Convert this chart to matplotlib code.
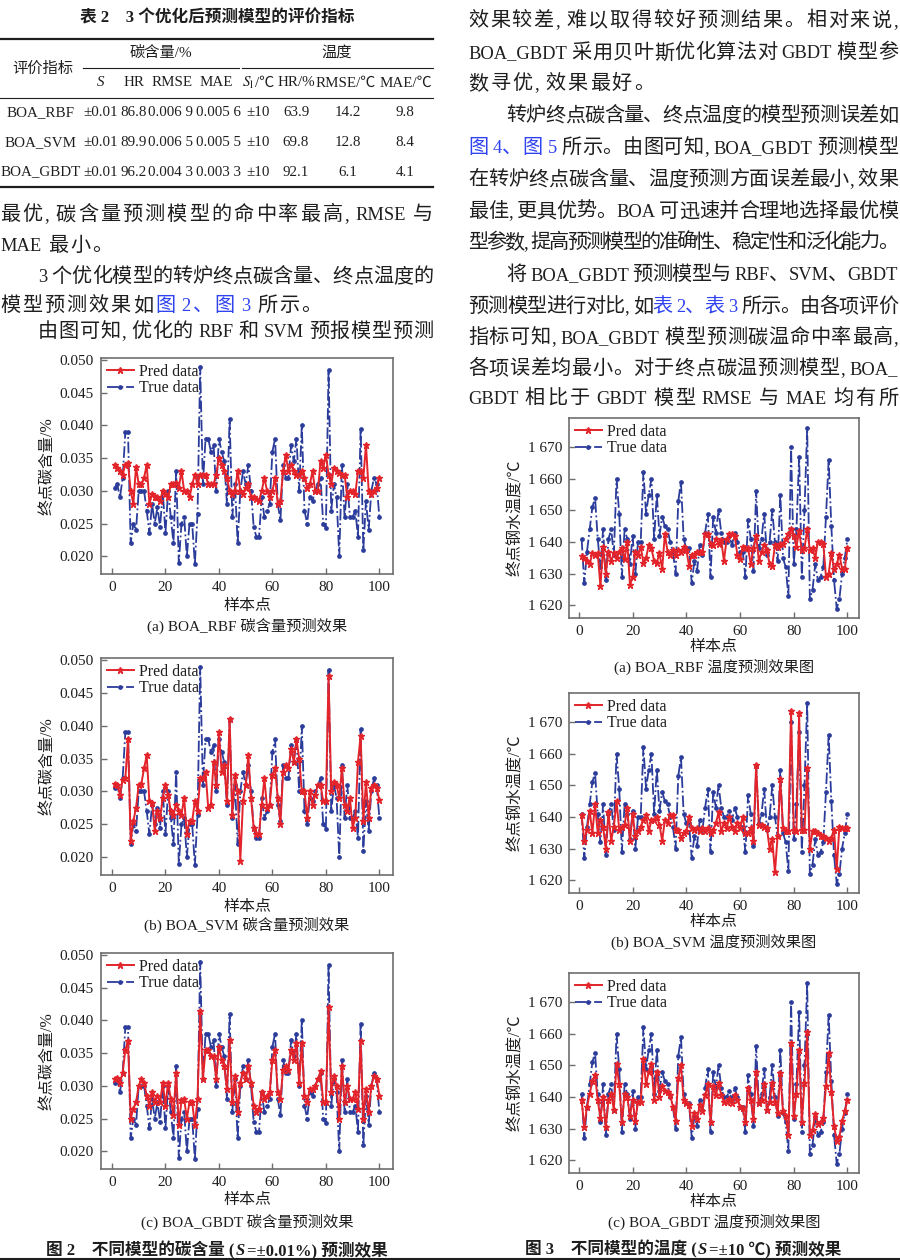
import re
import numpy as np
import matplotlib
matplotlib.use("Agg")
import matplotlib.pyplot as plt
from matplotlib.lines import Line2D
from matplotlib.ticker import FuncFormatter

# ---- values ----
sample = np.arange(1, 101)

carbon_true = [0.0305, 0.031, 0.029, 0.032, 0.039, 0.039, 0.022, 0.025, 0.024, 0.030,
               0.030, 0.030, 0.027, 0.0235, 0.028, 0.025, 0.0275, 0.0245, 0.030, 0.0235,
               0.030, 0.026, 0.022, 0.033, 0.019, 0.025, 0.026, 0.020, 0.025, 0.025,
               0.0188, 0.0265, 0.049, 0.031, 0.038, 0.038, 0.036, 0.037, 0.030, 0.038,
               0.036, 0.0345, 0.028, 0.041, 0.026, 0.031, 0.022, 0.030, 0.033, 0.031,
               0.034, 0.030, 0.0245, 0.023, 0.023, 0.029, 0.026, 0.027, 0.028, 0.036,
               0.038, 0.028, 0.0255, 0.034, 0.032, 0.032, 0.037, 0.0345, 0.038, 0.030,
               0.040, 0.027, 0.025, 0.029, 0.0285, 0.030, 0.031, 0.032, 0.025, 0.0243,
               0.0485, 0.027, 0.031, 0.029, 0.020, 0.034, 0.026, 0.031, 0.026, 0.026,
               0.027, 0.023, 0.0395, 0.021, 0.0285, 0.024, 0.030, 0.032, 0.031, 0.026]

carbon_rbf = [0.034, 0.0335, 0.033, 0.0325, 0.034, 0.0342, 0.030, 0.028, 0.0337, 0.031,
              0.031, 0.032, 0.034, 0.028, 0.0295, 0.029, 0.029, 0.0285, 0.030, 0.0295,
              0.029, 0.031, 0.031, 0.0312, 0.0305, 0.033, 0.030, 0.030, 0.029, 0.031,
              0.0325, 0.031, 0.0325, 0.0325, 0.0325, 0.031, 0.031, 0.031, 0.0325, 0.035,
              0.034, 0.033, 0.032, 0.030, 0.0295, 0.030, 0.033, 0.030, 0.0295, 0.0305,
              0.031, 0.029, 0.029, 0.0288, 0.0285, 0.030, 0.032, 0.030, 0.029, 0.030,
              0.032, 0.028, 0.0285, 0.033, 0.0355, 0.033, 0.034, 0.033, 0.0325, 0.0325,
              0.033, 0.032, 0.0305, 0.031, 0.033, 0.030, 0.030, 0.0345, 0.0335, 0.0355,
              0.0325, 0.031, 0.0335, 0.033, 0.0328, 0.0325, 0.0325, 0.029, 0.030, 0.030,
              0.0295, 0.033, 0.033, 0.032, 0.037, 0.030, 0.0295, 0.030, 0.0305, 0.032]

carbon_svm = [0.0312, 0.031, 0.0295, 0.0318, 0.032, 0.038, 0.0225, 0.0255, 0.0275, 0.031,
              0.0312, 0.0335, 0.0355, 0.0285, 0.0283, 0.024, 0.027, 0.026, 0.029, 0.031,
              0.0295, 0.027, 0.0265, 0.028, 0.027, 0.0265, 0.029, 0.0235, 0.0255, 0.0255,
              0.0285, 0.027, 0.032, 0.032, 0.033, 0.0275, 0.028, 0.0345, 0.031, 0.039,
              0.033, 0.034, 0.0285, 0.041, 0.0265, 0.0325, 0.030, 0.0195, 0.0285, 0.031,
              0.0355, 0.029, 0.0245, 0.0235, 0.0235, 0.028, 0.032, 0.0275, 0.028, 0.0325,
              0.0335, 0.029, 0.025, 0.033, 0.034, 0.0335, 0.0365, 0.0345, 0.038, 0.035,
              0.030, 0.030, 0.026, 0.030, 0.028, 0.0295, 0.031, 0.031, 0.0285, 0.0285,
              0.0475, 0.030, 0.0315, 0.031, 0.029, 0.0335, 0.028, 0.027, 0.029, 0.0245,
              0.026, 0.0345, 0.0385, 0.0255, 0.0315, 0.026, 0.0305, 0.031, 0.0305, 0.0287]

carbon_gbdt = [0.031, 0.0312, 0.0305, 0.032, 0.0355, 0.0368, 0.025, 0.0265, 0.0275, 0.030,
               0.031, 0.0305, 0.0285, 0.027, 0.029, 0.0275, 0.0285, 0.0275, 0.0305, 0.027,
               0.0305, 0.028, 0.0255, 0.032, 0.024, 0.0278, 0.028, 0.025, 0.0275, 0.0275,
               0.024, 0.028, 0.0415, 0.031, 0.0355, 0.0355, 0.0345, 0.0345, 0.031, 0.036,
               0.034, 0.033, 0.0295, 0.037, 0.0275, 0.0315, 0.026, 0.0305, 0.032, 0.031,
               0.033, 0.0305, 0.027, 0.026, 0.0265, 0.029, 0.028, 0.0285, 0.029, 0.034,
               0.0355, 0.029, 0.028, 0.0325, 0.033, 0.0325, 0.0355, 0.034, 0.0365, 0.0305,
               0.0365, 0.0285, 0.0275, 0.0295, 0.0295, 0.030, 0.031, 0.0322, 0.0275, 0.0275,
               0.042, 0.029, 0.0315, 0.030, 0.025, 0.033, 0.0275, 0.030, 0.028, 0.028,
               0.029, 0.0265, 0.0368, 0.025, 0.0295, 0.026, 0.030, 0.0315, 0.031, 0.0285]

temp_true = [1641, 1627, 1637, 1644, 1651, 1654, 1641, 1632, 1644, 1628,
             1641, 1644, 1636, 1660, 1649, 1629, 1644, 1641, 1633, 1642,
             1630, 1640, 1640, 1662, 1649, 1655, 1660, 1641, 1655, 1642,
             1648, 1645, 1644, 1640, 1637, 1630, 1653, 1659, 1641, 1638,
             1638, 1627, 1634, 1631, 1639, 1636, 1643, 1649, 1629, 1648,
             1643, 1650, 1643, 1640, 1640, 1642, 1639, 1643, 1640, 1637,
             1637, 1629, 1647, 1641, 1631, 1656, 1638, 1641, 1649, 1636,
             1640, 1650, 1640, 1634, 1655, 1635, 1632, 1623, 1670, 1633,
             1644, 1667, 1629, 1650, 1676, 1622, 1625, 1633, 1628, 1629,
             1632, 1648, 1666, 1645, 1628, 1619, 1622, 1630, 1635, 1641]

temp_rbf = [1635.5, 1635, 1634, 1633, 1636.5, 1636, 1636.5, 1626, 1638.5, 1630,
            1637, 1634, 1636.5, 1635, 1637, 1638, 1634.5, 1640, 1626.5, 1629,
            1637, 1636, 1638.5, 1633.5, 1635, 1639, 1638, 1634, 1633.5, 1636.5,
            1631.5, 1642.5, 1637, 1636, 1637.5, 1636, 1637.5, 1637, 1638.5, 1637.5,
            1632.5, 1636, 1636, 1637, 1637, 1637, 1642.5, 1642.5, 1639.5, 1639,
            1641, 1639.5, 1640.5, 1634, 1641, 1642.5, 1642.5, 1642, 1636, 1634.5,
            1638.5, 1638, 1638, 1633, 1638, 1642, 1634, 1637, 1639, 1637.5,
            1633, 1632.5, 1639, 1638.5, 1639.5, 1639.5, 1641, 1642.5, 1644, 1642,
            1638.5, 1643.5, 1637.5, 1638, 1644, 1637.5, 1638, 1635, 1640, 1640,
            1639.5, 1629, 1630, 1636.5, 1631.5, 1633, 1636, 1631.5, 1631.5, 1638]

temp_svm = [1640.5, 1632.5, 1636, 1642, 1635, 1644, 1635, 1639, 1637, 1630,
            1641.5, 1632.5, 1637, 1645, 1636, 1637, 1637.5, 1643, 1632.5, 1641,
            1634, 1635.5, 1637, 1639, 1640.5, 1635.5, 1639, 1639, 1640, 1637.5,
            1632.5, 1639, 1638, 1640.5, 1640.5, 1636, 1636, 1633.5, 1635, 1635.5,
            1640, 1636.5, 1636, 1636.5, 1635.5, 1636.5, 1635.5, 1636.5, 1635, 1636,
            1638, 1641.5, 1635.5, 1638, 1636.5, 1640, 1637, 1635.5, 1638, 1636.5,
            1640, 1635, 1635, 1636.5, 1632.5, 1656.5, 1637.5, 1637.5, 1637, 1636.5,
            1630, 1633, 1622.5, 1634, 1652, 1636.5, 1635.5, 1635.5, 1673.5, 1636,
            1635.5, 1673, 1636, 1636, 1655.5, 1630, 1635.5, 1635.5, 1635, 1634,
            1634, 1633.5, 1632.5, 1633.5, 1636, 1623.5, 1637, 1636.5, 1636.5, 1636.5]

temp_gbdt = [1639, 1630.5, 1637, 1641, 1645, 1647, 1639, 1633.5, 1640, 1630.5,
             1639, 1641, 1636, 1650.5, 1644, 1632, 1641, 1640, 1634, 1639,
             1632.5, 1638.5, 1638.5, 1652, 1644, 1648, 1650.5, 1639, 1648, 1640,
             1643.5, 1642, 1641.5, 1640.5, 1637, 1632.5, 1646, 1650, 1639, 1638,
             1637.5, 1631, 1635, 1633, 1637.5, 1635.5, 1640.5, 1644, 1632, 1643.5,
             1640.5, 1644.5, 1640.5, 1638.5, 1638.5, 1639.5, 1638, 1640.5, 1639, 1637,
             1636.5, 1632, 1643, 1639, 1633, 1648, 1638, 1639, 1644, 1636,
             1638.5, 1644.5, 1638.5, 1635, 1647.5, 1635.5, 1634, 1628, 1657, 1634,
             1641, 1655, 1632, 1644.5, 1660.5, 1628, 1629.5, 1634.5, 1631.5, 1632,
             1633.5, 1643.5, 1654, 1641.5, 1631, 1626, 1627.5, 1632.5, 1635.5, 1639]

x_ticks = [0, 20, 40, 60, 80, 100]
carbon_ticks = [0.020, 0.025, 0.030, 0.035, 0.040, 0.045, 0.050]
temp_ticks = [1620, 1630, 1640, 1650, 1660, 1670]

table_models = ["BOA_RBF", "BOA_SVM", "BOA_GBDT"]
table_c_s = ["±0.01", "±0.01", "±0.01"]
table_c_hr = ["86.8", "89.9", "96.2"]
table_c_rmse = ["0.006 9", "0.006 5", "0.004 3"]
table_c_mae = ["0.005 6", "0.005 5", "0.003 3"]
table_t_s = ["±10", "±10", "±10"]
table_t_hr = ["63.9", "69.8", "92.1"]
table_t_rmse = ["14.2", "12.8", "6.1"]
table_t_mae = ["9.8", "8.4", "4.1"]

RED = "#e3242b"
BLUE = "#2b3c9b"
INK = "#1e1e1e"
LINK = "#2f43f0"
SPINE = "#6e6e6e"

plt.rcParams["font.family"] = ["Liberation Serif", "Noto Sans CJK SC"]
plt.rcParams["mathtext.fontset"] = "stix"

W, H = 900, 1260
fig = plt.figure(figsize=(9, 12.6), dpi=100)
renderer = fig.canvas.get_renderer()


def fx(x):
    return x / W


def fy(y):
    return 1 - y / H


def hline(x0, x1, y, lw):
    fig.add_artist(Line2D([fx(x0), fx(x1)], [fy(y), fy(y)], transform=fig.transFigure,
                          color=INK, lw=lw))


TOK = re.compile(r"[A-Za-z0-9_.%±]+|\s+|.")


def text_line(x0, x1, y, segs, size=14.5, justify=True):
    # y is the visual centre of the line; glyph runs share a baseline
    em = size * 100 / 72
    base = y + 0.36 * em
    arts, pads, pending = [], [], 0.0
    for s, c in segs:
        for m in TOK.finditer(s):
            tok = m.group()
            if tok.isspace():
                pending += 0.22 * em
                continue
            latin = all(ord(ch) < 0x2000 for ch in tok)
            fs = size * 0.92 if latin else size
            arts.append(fig.text(0, fy(base), tok, color=c, fontsize=fs, va="baseline"))
            pads.append(pending)
            pending = 0.0
    ws = [a.get_window_extent(renderer).width for a in arts]
    gap = 0.1 * em
    if justify and len(arts) > 1:
        gap = (x1 - x0 - sum(ws) - sum(pads[1:])) / (len(arts) - 1)
    x = x0
    for i, (a, w) in enumerate(zip(arts, ws)):
        if i:
            x += pads[i] + gap
        a.set_x(fx(x))
        x += w


def seq(xc, y, segs, size, **kw):
    em = size * 100 / 72
    base = y + 0.36 * em
    arts = [fig.text(0, fy(base), s, va="baseline", fontsize=size, color=INK, **kw, **ex)
            for s, ex in segs]
    ws = [a.get_window_extent(renderer).width for a in arts]
    x = xc - (sum(ws) + 1.5 * (len(ws) - 1)) / 2
    for a, w in zip(arts, ws):
        a.set_x(fx(x))
        x += w + 1.5


# ---- table 2 ----
fig.text(fx(217), fy(18), "表 2　3 个优化后预测模型的评价指标", ha="center", va="center",
         fontsize=12, weight="bold", color=INK)
hline(0, 433, 39, 1.6)
hline(83, 239, 68, 0.8)
hline(242, 433, 68, 0.8)
hline(0, 433, 98, 0.8)
hline(0, 433, 187, 1.6)

tsize = 10.3
fig.text(fx(43), fy(69), "评价指标", ha="center", va="center", fontsize=11, color=INK)
fig.text(fx(161), fy(53), "碳含量/%", ha="center", va="center", fontsize=11, color=INK)
fig.text(fx(337), fy(53), "温度", ha="center", va="center", fontsize=11, color=INK)
fig.text(fx(101), fy(83), "S", ha="center", va="center", fontsize=tsize + 0.5,
         style="italic", color=INK)
for xc, lab in [(134, "HR"), (172, "RMSE"), (216, "MAE"), (296, "HR/%"),
                (346, "RMSE/℃"), (406, "MAE/℃")]:
    fig.text(fx(xc), fy(83), lab, ha="center", va="center", fontsize=tsize + 0.5, color=INK)
seq(258, 81, [("$S_\\mathrm{l}$", {}), ("/℃", {})], tsize + 0.5)

cols = [(41, table_models), (101, table_c_s), (134, table_c_hr), (170, table_c_rmse),
        (218, table_c_mae), (258, table_t_s), (296, table_t_hr), (348, table_t_rmse),
        (405, table_t_mae)]
for row, yy in enumerate([113, 143, 172]):
    for xc, vals in cols:
        fig.text(fx(xc), fy(yy), vals[row], ha="center", va="center", fontsize=tsize + 0.5,
                 color=INK)

# ---- body text ----
K, B = INK, LINK
LX0, LX1 = 0, 433
RX0, RX1 = 468, 898
IND = 38
text_line(LX0, LX1, 213, [("最优, 碳含量预测模型的命中率最高, RMSE 与", K)])
text_line(LX0, LX1, 244, [("MAE 最小。", K)], justify=False)
text_line(LX0 + IND, LX1, 275, [("3 个优化模型的转炉终点碳含量、终点温度的", K)])
text_line(LX0, LX1, 304, [("模型预测效果如", K), ("图 2、图 3", B), (" 所示。", K)], justify=False)
text_line(LX0 + IND, LX1, 330, [("由图可知, 优化的 RBF 和 SVM 预报模型预测", K)])

text_line(RX0, RX1, 19, [("效果较差, 难以取得较好预测结果。相对来说,", K)])
text_line(RX0, RX1, 51, [("BOA_GBDT 采用贝叶斯优化算法对 GBDT 模型参", K)])
text_line(RX0, RX1, 82, [("数寻优, 效果最好。", K)], justify=False)
text_line(RX0 + IND, RX1, 114, [("转炉终点碳含量、终点温度的模型预测误差如", K)])
text_line(RX0, RX1, 146, [("图 4、图 5", B), (" 所示。由图可知, BOA_GBDT 预测模型", K)])
text_line(RX0, RX1, 178, [("在转炉终点碳含量、温度预测方面误差最小, 效果", K)])
text_line(RX0, RX1, 210, [("最佳, 更具优势。BOA 可迅速并合理地选择最优模", K)])
text_line(RX0, RX1, 241, [("型参数, 提高预测模型的准确性、稳定性和泛化能力。", K)])
text_line(RX0 + IND, RX1, 273, [("将 BOA_GBDT 预测模型与 RBF、SVM、GBDT", K)])
text_line(RX0, RX1, 305, [("预测模型进行对比, 如", K), ("表 2、表 3", B), (" 所示。由各项评价", K)])
text_line(RX0, RX1, 336, [("指标可知, BOA_GBDT 模型预测碳温命中率最高,", K)])
text_line(RX0, RX1, 367, [("各项误差均最小。对于终点碳温预测模型, BOA_", K)])
text_line(RX0, RX1, 397, [("GBDT 相比于 GBDT 模型 RMSE 与 MAE 均有所", K)])


# ---- chart panels ----
def carbon_fmt(v, pos):
    return f"{v:.3f}"


def temp_fmt(v, pos):
    v = int(round(v))
    return f"{v // 1000} {v % 1000:03d}"


def panel(box, pred, true, ylim, xlim, ticks, fmt, ylabel, ylab_x, xlab_y, caption, cap_y):
    l, t, r, b = box
    ax = fig.add_axes([fx(l), fy(b), (r - l) / W, (b - t) / H])
    ax.plot(sample, true, color=BLUE, lw=1.3, ls="-.", marker="o", ms=2.4, label="True data")
    ax.plot(sample, pred, color=RED, lw=1.4, marker="*", ms=5, label="Pred data")
    ax.set_xlim(*xlim)
    ax.set_ylim(*ylim)
    ax.set_xticks(x_ticks)
    ax.set_yticks(ticks)
    ax.yaxis.set_major_formatter(FuncFormatter(fmt))
    ax.tick_params(direction="in", length=4, width=1, color=SPINE, labelsize=11,
                   labelcolor=INK, pad=5)
    for s in ax.spines.values():
        s.set_color(SPINE)
        s.set_linewidth(1.2)
    h, lab = ax.get_legend_handles_labels()
    ax.legend(h[::-1], lab[::-1], loc="upper left", frameon=False, fontsize=11.5,
              handlelength=1.7, handletextpad=0.35, borderaxespad=0.2, borderpad=0.15,
              labelspacing=0.05, labelcolor=INK)
    cx = (l + r) / 2
    fig.text(fx(ylab_x), fy((t + b) / 2), ylabel, rotation=90, ha="center", va="center",
             fontsize=11.5, color=INK)
    fig.text(fx(cx), fy(xlab_y), "样本点", ha="center", va="center", fontsize=11.5, color=INK)
    fig.text(fx(cx), fy(cap_y), caption, ha="center", va="center", fontsize=11, color=INK)
    return ax


c_ylim = (0.0173, 0.0503)
c_xlim = (-4.1, 105.1)
t_ylim = (1616, 1679.2)
t_xlim = (-3.7, 104.3)

panel((101, 358, 393, 574), carbon_rbf, carbon_true, c_ylim, c_xlim, carbon_ticks, carbon_fmt,
      "终点碳含量/%", 47, 606, "(a) BOA_RBF 碳含量预测效果", 626)
panel((101, 658, 393, 875), carbon_svm, carbon_true, c_ylim, c_xlim, carbon_ticks, carbon_fmt,
      "终点碳含量/%", 47, 907, "(b) BOA_SVM 碳含量预测效果", 925)
panel((101, 953, 393, 1169), carbon_gbdt, carbon_true, c_ylim, c_xlim, carbon_ticks, carbon_fmt,
      "终点碳含量/%", 47, 1200, "(c) BOA_GBDT 碳含量预测效果", 1222)

panel((569, 418, 859, 618), temp_rbf, temp_true, t_ylim, t_xlim, temp_ticks, temp_fmt,
      "终点钢水温度/℃", 516, 647, "(a) BOA_RBF 温度预测效果图", 667)
panel((569, 693, 859, 893), temp_svm, temp_true, t_ylim, t_xlim, temp_ticks, temp_fmt,
      "终点钢水温度/℃", 516, 922, "(b) BOA_SVM 温度预测效果图", 942)
panel((569, 973, 859, 1173), temp_gbdt, temp_true, t_ylim, t_xlim, temp_ticks, temp_fmt,
      "终点钢水温度/℃", 516, 1202, "(c) BOA_GBDT 温度预测效果图", 1222)

# figure captions
seq(217, 1249, [("图 2　不同模型的碳含量 (", {}), ("S", {"style": "italic"}),
                ("=±0.01%) 预测效果", {})], 12, weight="bold")
seq(683, 1248, [("图 3　不同模型的温度 (", {}), ("S", {"style": "italic"}),
                ("=±10 ℃) 预测效果", {})], 12, weight="bold")
hline(0, 900, 1258.5, 1.5)

fig.savefig("out.png", dpi=100)
